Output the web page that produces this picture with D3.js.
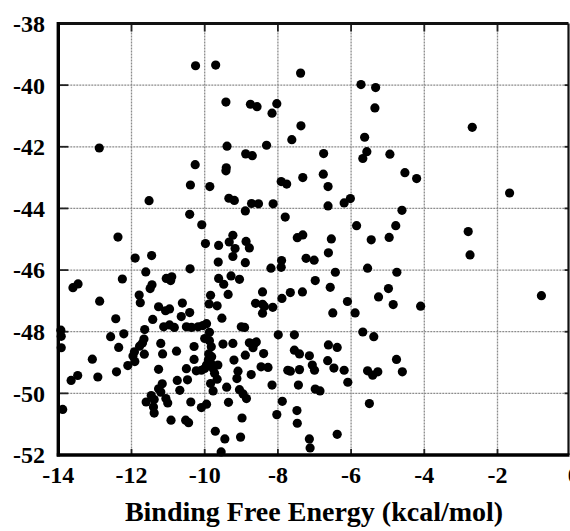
<!DOCTYPE html>
<html>
<head>
<meta charset="utf-8">
<script src="https://cdn.jsdelivr.net/npm/d3@7"></script>
<style>
  body { margin: 0; background: #fff; }
  svg text { font-family: "Liberation Serif", "Times New Roman", serif; font-weight: bold; }
</style>
</head>
<body>
<div id="chart"></div>
<script>
// size of the page
const width = 570;
const height = 531;

// axis ticks
const xTicks = [-14, -12, -10, -8, -6, -4, -2, 0];
const yTicks = [-52, -50, -48, -46, -44, -42, -40, -38];

// binding free energy (kcal/mol) for every point
const bindingEnergy = [
  -12.88, -11.52, -12.37,
  -10.25, -9.70, -7.38, -9.42, -8.75, -8.57, -8.03, -8.16, -7.37, -7.62, -9.39, -8.31,
  -8.88, -8.70, -10.26, -9.41, -9.42, -10.39, -9.86, -7.91, -7.76, -7.32, -9.34, -9.19,
  -8.72, -8.53, -8.13, -8.89, -10.41, -10.08, -7.80, -7.47, -7.32,
  -5.73, -5.33, -5.35, -5.63, -6.75, -5.57, -5.68, -4.94, -6.76, -4.53, -4.21, -6.63,
  -6.63, -6.19, -6.02, -4.61, -5.85, -4.78, -6.54, -5.45, -4.96,
  -1.67, -2.80, -2.75, -0.80, -2.69,
  -11.90, -11.45, -12.25, -13.60, -13.46, -12.87, -11.61, -11.49, -11.44, -11.79, -11.76,
  -11.05, -10.90, -10.93, -11.26, -11.07, -10.96, -10.61, -10.64, -11.42, -12.43, -11.12,
  -10.96, -10.83, -10.50, -13.93, -13.92, -13.92, -12.57, -12.21, -12.35, -11.64, -11.66,
  -11.70, -11.78, -11.92, -11.96, -11.91, -12.10, -11.65, -11.20, -11.15, -10.77, -13.07,
  -12.41, -12.92, -13.65, -13.47, -11.26, -10.75, -11.16, -11.26, -11.20, -10.68, -11.60,
  -11.46, -11.38, -11.40, -11.38, -11.06, -11.01, -13.88, -10.92, -10.52, -10.44, -10.40,
  -9.98, -9.62, -9.33, -9.23, -9.17, -8.87, -8.78, -9.23, -9.63, -8.89, -8.19, -7.90,
  -7.91, -7.23, -7.01, -9.62, -9.48, -9.28, -9.05, -9.84, -9.88, -9.66, -9.36, -9.53,
  -10.41, -8.42, -8.61, -8.42, -8.37, -8.42, -8.14, -7.89, -7.66, -7.33, -10.36, -10.18,
  -10.05, -9.95, -9.00, -8.91, -9.87, -10.00, -9.87, -9.82, -9.50, -9.23, -8.78, -8.64,
  -8.59, -8.68, -8.39, -8.89, -7.99, -7.55, -7.55, -7.41, -7.14, -10.29, -10.29, -9.89,
  -9.90, -9.81, -9.95, -9.83, -10.00, -9.77, -9.64, -9.73, -9.66, -9.84, -10.09, -10.23,
  -10.50, -10.47, -9.20, -9.09, -9.12, -8.73, -8.46, -8.27, -9.40, -9.77, -9.05, -8.95,
  -8.86, -8.16, -7.73, -7.66, -7.41, -7.44, -10.38, -10.09, -9.95, -9.35, -7.88, -8.03,
  -7.48, -7.47, -8.98, -9.71, -9.45, -9.02, -9.55, -7.14, -7.12,
  -6.62, -5.55, -4.75, -6.43, -6.98, -6.57, -4.98, -5.25, -4.85, -4.10, -6.10, -5.89,
  -6.50, -5.68, -5.38, -6.62, -6.38, -6.64, -6.47, -6.19, -7.06, -7.00, -6.09, -6.98,
  -6.85, -5.55, -5.41, -5.27, -4.76, -4.60, -5.50, -6.38
];

// second quantity (y axis) for the same points, same order
const scoreValues = [
  -42.04, -43.75, -44.93,
  -39.37, -39.35, -39.61, -40.55, -40.62, -40.70, -40.60, -40.91, -41.32, -41.77, -41.98, -41.95,
  -42.23, -42.29, -42.58, -42.68, -42.78, -43.24, -43.29, -43.13, -43.21, -43.00, -43.67, -43.74,
  -43.84, -43.85, -43.85, -44.08, -44.19, -44.53, -44.28, -44.95, -44.86,
  -39.98, -40.08, -40.74, -41.69, -42.22, -42.16, -42.38, -42.24, -42.89, -42.84, -43.03, -43.29,
  -43.92, -43.82, -43.68, -44.06, -44.56, -44.56, -44.99, -45.02, -44.94,
  -43.50, -44.75, -45.51, -46.83, -41.37,
  -45.61, -45.53, -46.29, -46.57, -46.45, -47.01, -46.06, -46.60, -46.48, -46.81, -47.06,
  -46.27, -46.22, -46.34, -47.19, -47.32, -47.26, -47.07, -47.51, -47.60, -47.58, -47.84,
  -47.78, -47.86, -47.84, -47.95, -48.15, -48.52, -48.16, -48.07, -48.51, -47.93, -48.24,
  -48.37, -48.47, -48.65, -48.79, -48.97, -49.10, -48.73, -48.38, -48.72, -48.63, -48.89,
  -49.30, -49.47, -49.58, -49.42, -49.22, -49.58, -49.69, -49.85, -49.96, -49.90, -50.28,
  -50.07, -50.20, -50.44, -50.64, -50.17, -50.31, -50.52, -50.87, -50.87, -50.95, -45.96,
  -45.14, -45.20, -45.09, -44.87, -45.30, -45.07, -45.28, -45.56, -45.74, -45.76, -45.94, -45.69,
  -45.91, -45.62, -45.68, -46.27, -46.46, -46.19, -46.30, -46.82, -47.10, -47.16, -46.79, -47.56,
  -47.38, -46.71, -47.08, -47.11, -47.18, -47.40, -47.21, -46.92, -46.73, -46.71, -47.86, -47.84,
  -47.80, -47.74, -47.84, -47.86, -48.02, -48.22, -48.29, -48.49, -48.40, -48.38, -48.36, -48.38,
  -48.33, -48.52, -48.71, -48.76, -48.10, -48.10, -48.60, -48.72, -48.78, -48.48, -48.90, -48.72,
  -48.92, -48.81, -49.08, -49.03, -49.19, -49.19, -49.08, -49.35, -49.54, -49.68, -49.25, -49.27,
  -49.20, -49.56, -48.92, -49.28, -49.52, -49.39, -49.14, -49.16, -49.80, -49.92, -49.88, -50.02,
  -50.17, -49.73, -49.25, -49.28, -49.23, -49.73, -50.28, -50.46, -50.35, -50.29, -50.26, -50.69,
  -50.56, -50.97, -50.80, -51.23, -51.48, -51.42, -51.90, -51.48, -51.77,
  -45.44, -45.94, -46.07, -46.07, -46.34, -46.56, -46.60, -46.87, -47.12, -47.17, -47.02, -47.39,
  -47.39, -48.01, -48.16, -48.43, -48.51, -48.94, -49.18, -49.25, -49.08, -49.25, -49.64, -49.86,
  -49.92, -49.27, -49.41, -49.30, -48.90, -49.30, -50.33, -51.33
];

const points = bindingEnergy.map((d, i) => ({ x: d, y: scoreValues[i] }));

const svg = d3.select("#chart")
    .append("svg")
    .attr("width", width)
    .attr("height", height);

const x = d3.scaleLinear().domain([-14, 0]).range([58.3, 570.7]);
const y = d3.scaleLinear().domain([-52, -38]).range([455, 23.5]);

const plotLeft = x(-14), plotRight = 568.5, plotTop = y(-38), plotBottom = y(-52);

// grid lines (dotted grey)
svg.append("g")
    .selectAll("line")
    .data(xTicks.slice(1, -1))
    .join("line")
    .attr("x1", d => x(d)).attr("x2", d => x(d))
    .attr("y1", plotTop).attr("y2", plotBottom)
    .attr("stroke", "#8c8c8c")
    .attr("stroke-width", 1.3)
    .attr("stroke-dasharray", "2,1");

svg.append("g")
    .selectAll("line")
    .data(yTicks.slice(1, -1))
    .join("line")
    .attr("x1", plotLeft).attr("x2", plotRight)
    .attr("y1", d => y(d)).attr("y2", d => y(d))
    .attr("stroke", "#8c8c8c")
    .attr("stroke-width", 1.3)
    .attr("stroke-dasharray", "2,1");

// inner tick marks
const tickG = svg.append("g").attr("stroke", "#222").attr("stroke-width", 1.8);
yTicks.slice(1, -1).forEach(t => {
    tickG.append("line").attr("x1", plotLeft).attr("x2", plotLeft + 10).attr("y1", y(t)).attr("y2", y(t));
    tickG.append("line").attr("x1", plotRight - 4).attr("x2", plotRight).attr("y1", y(t)).attr("y2", y(t));
});
xTicks.slice(1, -1).forEach(t => {
    tickG.append("line").attr("x1", x(t)).attr("x2", x(t)).attr("y1", plotTop).attr("y2", plotTop + 8);
    tickG.append("line").attr("x1", x(t)).attr("x2", x(t)).attr("y1", plotBottom - 6).attr("y2", plotBottom);
});

// points
svg.append("g")
    .selectAll("circle")
    .data(points)
    .join("circle")
    .attr("cx", d => x(d.x))
    .attr("cy", d => y(d.y))
    .attr("r", 4.6)
    .attr("fill", "#000");

// frame
svg.append("line").attr("x1", plotLeft).attr("x2", plotRight).attr("y1", plotTop).attr("y2", plotTop)
    .attr("stroke", "#111").attr("stroke-width", 3);
svg.append("line").attr("x1", plotRight).attr("x2", plotRight).attr("y1", plotTop).attr("y2", plotBottom)
    .attr("stroke", "#111").attr("stroke-width", 2.2);
svg.append("line").attr("x1", plotLeft).attr("x2", plotLeft).attr("y1", plotTop - 1.5).attr("y2", plotBottom + 1.5)
    .attr("stroke", "#000").attr("stroke-width", 3.4);
svg.append("line").attr("x1", plotLeft - 1.5).attr("x2", plotRight + 1).attr("y1", plotBottom).attr("y2", plotBottom)
    .attr("stroke", "#000").attr("stroke-width", 3.4);

// tick labels
svg.append("g")
    .selectAll("text")
    .data(yTicks)
    .join("text")
    .attr("x", 45)
    .attr("y", d => y(d))
    .attr("dy", "0.35em")
    .attr("text-anchor", "end")
    .attr("font-size", "24px")
    .text(d => d);

// the 0 label sits at the right edge, cut like in the original figure
svg.append("g")
    .selectAll("text")
    .data(xTicks)
    .join("text")
    .attr("x", d => d === 0 ? x(d) + 3 : x(d))
    .attr("y", 483)
    .attr("text-anchor", "middle")
    .attr("font-size", "24px")
    .text(d => d);

// axis title
svg.append("text")
    .attr("x", 314)
    .attr("y", 521)
    .attr("text-anchor", "middle")
    .attr("font-size", "28px")
    .text("Binding Free Energy (kcal/mol)");
</script>
</body>
</html>
